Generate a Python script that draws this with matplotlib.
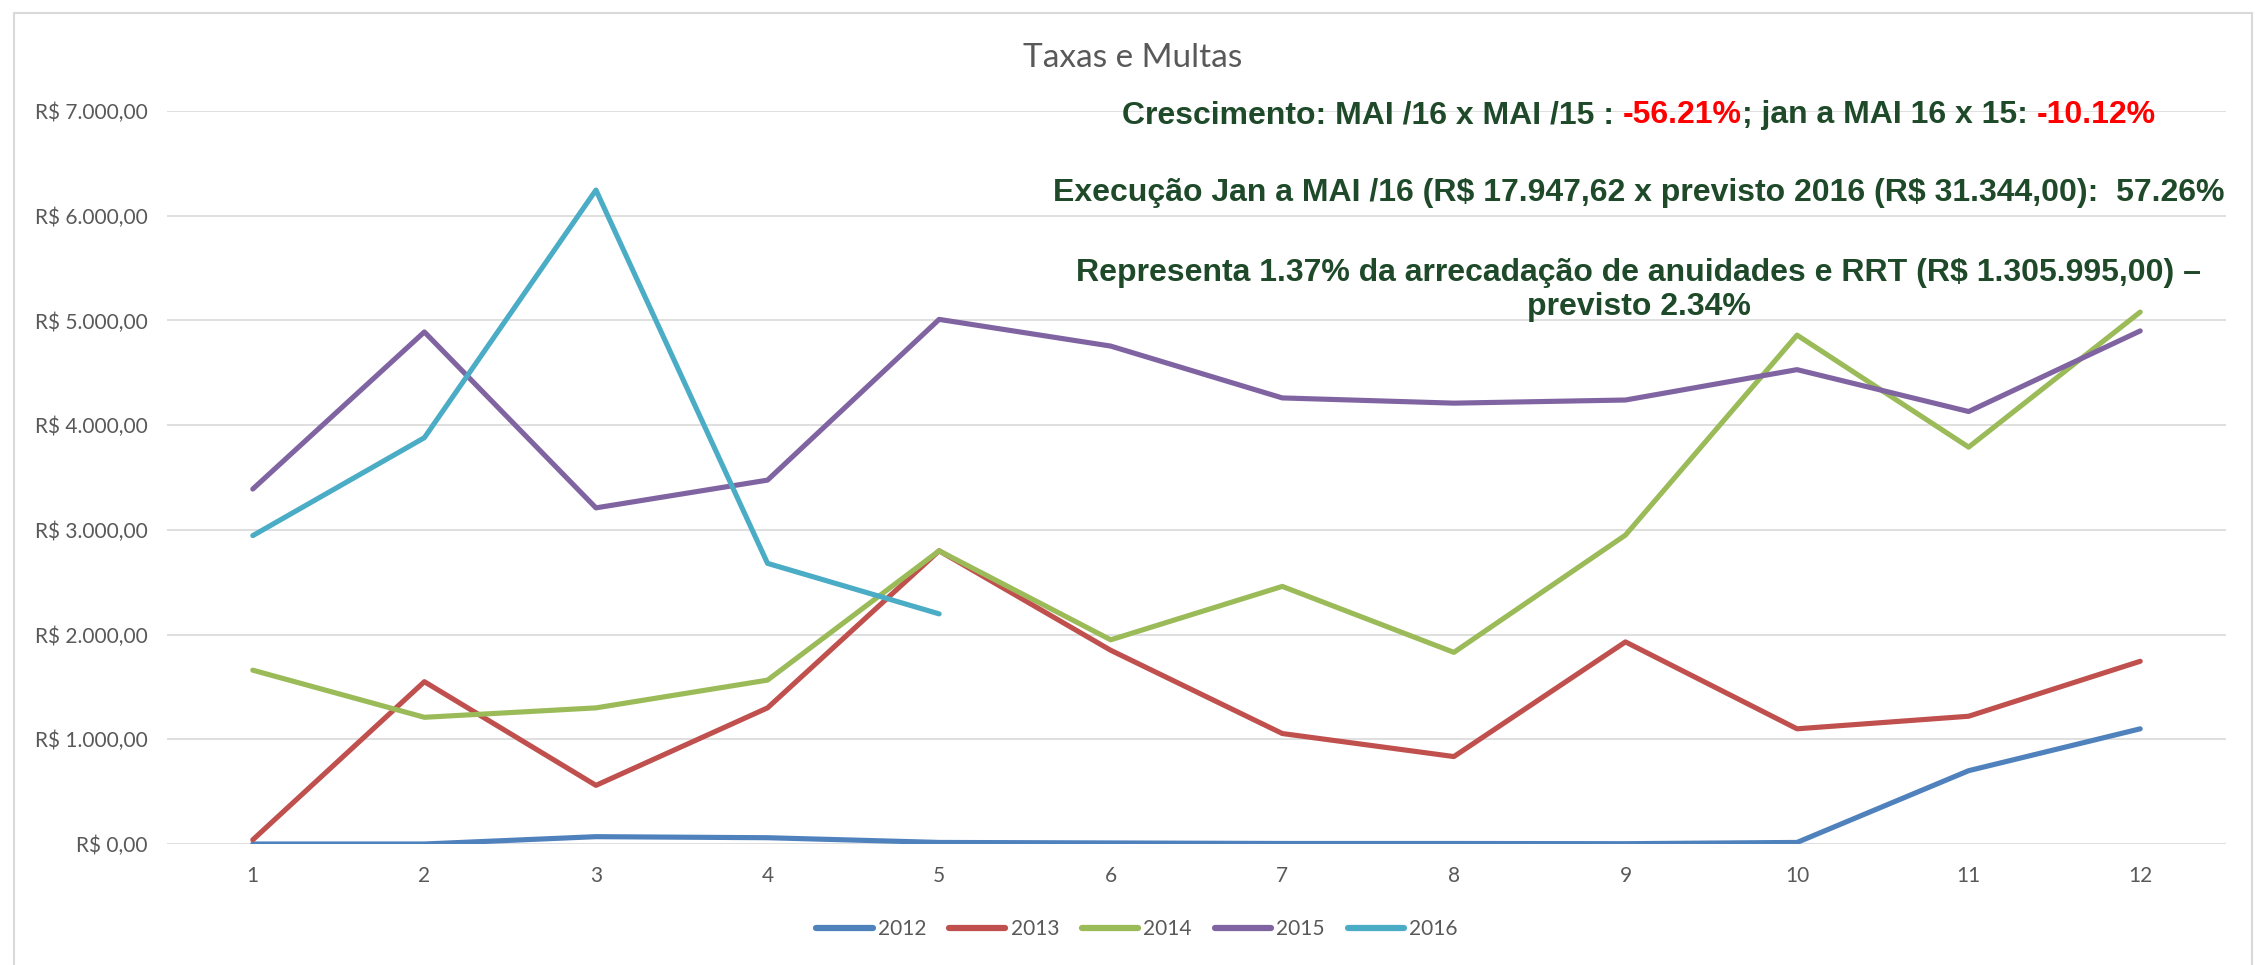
import numpy as np
import matplotlib
matplotlib.use('Agg')
import matplotlib.pyplot as plt
from matplotlib.patches import Rectangle
from matplotlib.ticker import FuncFormatter

#%% Data
meses = [1, 2, 3, 4, 5, 6, 7, 8, 9, 10, 11, 12]
v2012 = [0, 0, 70, 60, 15, 10, 5, 5, 3, 15, 700, 1100]
v2013 = [40, 1550, 560, 1300, 2800, 1850, 1055, 835, 1930, 1100, 1220, 1745]
v2014 = [1660, 1210, 1300, 1565, 2800, 1950, 2460, 1830, 2950, 4860, 3790, 5080]
v2015 = [3390, 4890, 3210, 3475, 5010, 4755, 4260, 4210, 4240, 4530, 4130, 4900]
v2016 = [2945, 3880, 6245, 2680, 2197.62]
anos = ['2012', '2013', '2014', '2015', '2016']
cores = ['#4F81BD', '#C0504D', '#9BBB59', '#8064A2', '#4BACC6']

def brl(v, pos=None):
    s = '{:,.2f}'.format(v).replace(',', 'X').replace('.', ',').replace('X', '.')
    return 'R$ ' + s

#%% Figure
W, H = 2255, 965
fig = plt.figure(figsize=(W/100, H/100), dpi=100)
ax = fig.add_axes([167/W, 1-844/H, (2226-167)/W, (844-111)/H])

series = [v2012, v2013, v2014, v2015, v2016]
for ano, vals, c in zip(anos, series, cores):
    ax.plot(meses[:len(vals)], vals, color=c, lw=3.7, label=ano,
            solid_capstyle='round', solid_joinstyle='round', zorder=3)

ax.set_xlim(0.5, 12.5)
ax.set_ylim(0, 7000)
ax.set_xticks(meses)
ax.set_yticks(np.arange(0, 7001, 1000))
ax.yaxis.set_major_formatter(FuncFormatter(brl))
ax.grid(axis='y', color='#D9D9D9', lw=1.2)
ax.set_axisbelow(True)
for s in ax.spines.values():
    s.set_visible(False)
ax.tick_params(axis='both', length=0, labelsize=15, labelcolor='#595959')
ax.tick_params(axis='y', pad=14)
ax.tick_params(axis='x', pad=16)
for lab in ax.get_xticklabels() + ax.get_yticklabels():
    lab.set_family('Lato')

fig.text(1133/W, 1-58/H, 'Taxas e Multas', ha='center', va='center',
         fontsize=24, color='#595959', family='Lato')

leg = fig.legend(loc='center', bbox_to_anchor=(1137/W, 1-929/H), ncol=5,
                 frameon=False, handlelength=2.7, handletextpad=0.25,
                 columnspacing=1.1, prop={'family': 'Lato', 'size': 15})
for t in leg.get_texts():
    t.set_color('#595959')
for h in leg.legend_handles:
    h.set_linewidth(4.5)

# borda do grafico
fig.patches.append(Rectangle((14/W, -0.05), (2252-14)/W, 1.05-13/H,
                             transform=fig.transFigure, fill=False,
                             edgecolor='#D9D9D9', lw=1.5))

#%% Annotations
verde = '#1F4A2A'
fs = 23
cx = 1639/W
fig.text(cx, 1-193/H, 'Execução Jan a MAI /16 (R$ 17.947,62 x previsto 2016 (R$ 31.344,00):  57.26%',
         ha='center', va='center', fontsize=fs, fontweight='bold', color=verde,
         family='Liberation Sans', parse_math=False)
fig.text(cx, 1-290/H, 'Representa 1.37% da arrecadação de anuidades e RRT (R$ 1.305.995,00) –\nprevisto 2.34%',
         ha='center', va='center', fontsize=fs, fontweight='bold', color=verde,
         family='Liberation Sans', linespacing=1.15, parse_math=False)

# linha 1 com partes em vermelho
partes = [('Crescimento: MAI /16 x MAI /15 : ', verde), ('-56.21%', 'red'),
          ('; jan a MAI 16 x 15: ', verde), ('-10.12%', 'red')]
txts = []
for p, c in partes:
    txts.append(fig.text(0, 1-115/H, p, ha='left', va='center', fontsize=fs,
                         fontweight='bold', color=c, family='Liberation Sans'))
fig.canvas.draw()
r = fig.canvas.get_renderer()
larg = [t.get_window_extent(r).width for t in txts]
x0 = cx*W - sum(larg)/2
for t, w in zip(txts, larg):
    t.set_x(x0/W)
    x0 += w

fig.savefig('out.png', dpi=100, facecolor='w')
